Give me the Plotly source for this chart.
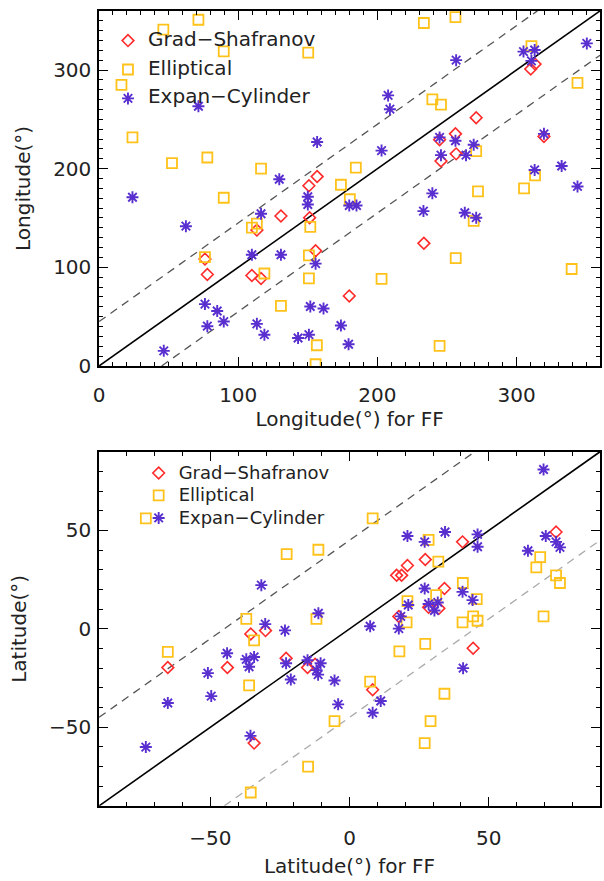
import plotly.graph_objects as go

# ---------------- data: top panel (longitude) ----------------
lon_gs_ff = [150.8, 156.7, 313.3, 310.2, 271.0, 256.1, 244.7, 256.6, 245.7, 319.7,
             130.7, 113.4, 151.3, 76.1, 77.8, 109.8, 116.4, 155.6, 179.8, 233.4]
lon_gs = [182.7, 192.0, 306.0, 301.0, 251.7, 235.3, 229.3, 215.0, 207.7, 232.7,
          152.0, 137.7, 150.3, 108.3, 92.7, 91.7, 88.7, 116.7, 71.0, 124.3]

lon_el_ff = [46.2, 71.4, 89.6, 150.3, 16.1, 24.0, 52.4, 77.8, 116.4, 173.8, 89.6,
             233.4, 256.1, 310.7, 343.8, 239.5, 245.7, 184.5, 271.0, 313.3, 272.3, 305.4, 180.2,
             113.4, 109.8, 151.8, 76.1, 150.8, 118.8, 150.8, 130.7, 156.5, 155.6,
             269.2, 256.3, 203.0, 339.6, 244.7]
lon_el = [341.0, 351.0, 319.0, 317.7, 285.0, 231.7, 205.7, 211.3, 200.0, 183.7, 170.5,
          347.7, 353.7, 324.3, 287.0, 270.3, 265.0, 201.0, 217.7, 193.3, 177.0, 180.0, 169.0,
          144.3, 140.3, 141.0, 110.3, 112.0, 93.7, 88.7, 61.0, 21.0, 1.7,
          147.0, 109.3, 88.3, 98.3, 20.3]

lon_ec_ff = [71.4, 156.7, 129.5, 150.0, 24.0,
             350.5, 305.0, 313.0, 310.7, 256.6, 207.7, 209.0, 203.0, 244.7, 256.1, 269.2,
             245.7, 263.7, 319.7, 313.0, 332.4, 343.8, 239.5,
             62.4, 116.4, 150.0, 109.8, 130.7, 155.6, 76.1, 84.9, 89.6, 77.8, 113.4, 118.8,
             143.0, 150.8, 151.8, 161.3, 173.8, 179.3, 46.5, 179.8, 185.0,
             233.1, 262.8, 271.0]
lon_ec = [263.3, 227.0, 189.3, 171.5, 171.0,
          327.0, 318.7, 320.3, 309.3, 310.0, 274.3, 260.3, 218.3, 231.7, 228.3, 224.3,
          213.7, 213.7, 235.3, 198.7, 202.7, 182.0, 175.0,
          141.7, 154.3, 163.7, 112.7, 112.7, 103.7, 62.7, 55.7, 45.0, 40.3, 42.7, 31.7,
          28.3, 31.7, 60.3, 58.3, 41.0, 22.0, 15.3, 162.7, 162.7,
          157.0, 155.3, 150.3]

# ---------------- data: bottom panel (latitude) ----------------
lat_gs_ff = [-35.5, -30.2, 74.2, 40.6, 27.2, 20.8, 16.9, 18.7, 34.1, 28.4, 32.1, 17.7,
             44.4, -65.3, -43.9, -22.8, -15.1, -12.4, -34.3, 8.3]
lat_gs = [-2.6, -0.9, 49.2, 44.2, 35.2, 32.2, 27.2, 27.2, 20.5, 10.9, 10.4, 6.3,
          -9.9, -19.7, -19.7, -15.0, -19.7, -18.0, -58.1, -31.0]

lat_el_ff = [-73.2, -22.6, -11.2, -37.1, -11.9, -34.3, -65.3, 8.3, 28.4, 31.9, 68.5,
             67.1, 74.2, 75.6, 40.7, 31.1, 20.8, 45.7, 20.5, 44.4, 46.0, 40.6, 69.7,
             17.9, 27.2, -36.1, -5.4, -14.9, -35.5, 7.4, 34.1, 29.1, 27.0]
lat_el = [56.1, 38.0, 40.2, 5.1, 5.1, -5.9, -11.7, 56.1, 45.2, 34.2, 36.4,
          31.2, 27.2, 23.3, 23.3, 17.1, 14.1, 15.1, 3.3, 6.3, 4.1, 3.3, 6.3,
          -11.5, -7.7, -28.8, -46.9, -70.1, -83.2, -26.8, -33.0, -46.9, -58.1]

lat_ec_ff = [-31.7, -30.3, -23.2, -11.2, -44.0, 69.7, 20.8, 27.0, 34.3, 46.0, 46.0,
             64.1, 70.5, 74.2, 75.6, 27.0, 40.6, 44.2, 21.1, 28.4, 31.7, 30.5, 18.4,
             7.4, 17.7, -37.1, -34.3, -36.1, -22.8, -15.1, -11.9, -10.4, -11.3, -21.1,
             -50.9, -5.4, -49.7, -65.3, -4.1, -35.6, -73.2, 40.8, 11.2, 8.3]
lat_ec = [22.2, 2.4, -0.8, 7.9, -12.4, 81.0, 47.2, 44.2, 49.2, 48.0, 41.7,
          39.7, 47.2, 44.2, 41.4, 20.5, 18.8, 14.6, 12.1, 12.6, 13.4, 9.3, 6.3,
          1.3, 0.1, -15.5, -14.3, -19.3, -17.5, -16.0, -21.0, -17.5, -23.3, -25.8,
          -22.5, -26.3, -34.2, -37.7, -38.4, -54.4, -60.1, -20.0, -36.7, -42.7]

lon_range = [0, 360]
lat_range = [-90, 90]
offset = 45
lon_ticks = [0, 100, 200, 300]
lat_ticks = [-50, 0, 50]
names = ["Grad\u2212Shafranov", "Elliptical", "Expan\u2212Cylinder"]

# ---------------- styling ----------------
RED = "#ff2b2b"
YEL = "#ffc21a"
PUR = "#5a2fd0"
FONT = "DejaVu Sans"
TXT = "#222222"
FS = 20

styles = [
    dict(symbol="diamond-open", size=9, color=RED, line=dict(width=1.6, color=RED)),
    dict(symbol="square-open", size=10, color=YEL, line=dict(width=1.8, color=YEL)),
    dict(symbol="asterisk-open", size=10, color=PUR, line=dict(width=1.9, color=PUR)),
]

fig = go.Figure()

def add_lines(lo, hi, xa, ya, low_color):
    fig.add_trace(go.Scatter(x=[lo, hi], y=[lo, hi], mode="lines", xaxis=xa, yaxis=ya,
                             line=dict(color="black", width=1.6), showlegend=False, hoverinfo="skip"))
    fig.add_trace(go.Scatter(x=[lo, hi - offset], y=[lo + offset, hi], mode="lines", xaxis=xa, yaxis=ya,
                             line=dict(color="#555555", width=1.3, dash="8px,6px"),
                             showlegend=False, hoverinfo="skip"))
    fig.add_trace(go.Scatter(x=[lo + offset, hi], y=[lo, hi - offset], mode="lines", xaxis=xa, yaxis=ya,
                             line=dict(color=low_color, width=1.3, dash="8px,6px"),
                             showlegend=False, hoverinfo="skip"))

add_lines(lon_range[0], lon_range[1], "x", "y", "#555555")
add_lines(lat_range[0], lat_range[1], "x2", "y2", "#aaaaaa")

def label(n, fs):
    return '<span style="font-size:%dpx">%s</span>' % (fs, n)

top_sets = [(lon_gs_ff, lon_gs), (lon_el_ff, lon_el), (lon_ec_ff, lon_ec)]
bot_sets = [(lat_gs_ff, lat_gs), (lat_el_ff, lat_el), (lat_ec_ff, lat_ec)]
for i, ((xs, ys), st) in enumerate(zip(top_sets, styles)):
    fig.add_trace(go.Scatter(x=xs, y=ys, mode="markers", name=label(names[i], FS), marker=st,
                             xaxis="x", yaxis="y", legend="legend", legendgroup="t%d" % i))
for i, ((xs, ys), st) in enumerate(zip(bot_sets, styles)):
    fig.add_trace(go.Scatter(x=xs, y=ys, mode="markers", name=label(names[i], 18), marker=st,
                             xaxis="x2", yaxis="y2", legend="legend2", legendgroup="b%d" % i))

W, H = 604, 881
xdom = [94 / W, 600 / W]
ydom_top = [1 - 371 / H, 1 - 11 / H]
ydom_bot = [1 - 817 / H, 1 - 458 / H]

def axis(rng, dom, tickvals, title, anchor, standoff, lab_off):
    return dict(range=rng, domain=dom, anchor=anchor, tickvals=tickvals,
                showline=True, linecolor="black", linewidth=1.5, mirror="allticks",
                ticks="inside", ticklen=9, tickwidth=1.3, tickcolor="black",
                minor=dict(dtick=10, ticks="inside", ticklen=4, tickwidth=1, tickcolor="black"),
                showgrid=False, zeroline=False, ticklabelstandoff=lab_off,
                tickfont=dict(family=FONT, size=FS, color=TXT),
                title=dict(text=title, font=dict(family=FONT, size=FS, color=TXT), standoff=standoff))

fig.update_layout(
    width=W, height=H, margin=dict(l=0, r=0, t=0, b=0),
    paper_bgcolor="white", plot_bgcolor="white",
    xaxis=axis(lon_range, xdom, lon_ticks, "Longitude(\u00b0) for FF", "y", 6, 10),
    yaxis=axis(lon_range, ydom_top, lon_ticks, "Longitude(\u00b0)", "x", 17, 2),
    xaxis2=axis(lat_range, xdom, lat_ticks, "Latitude(\u00b0) for FF", "y2", 10, 13),
    yaxis2=axis(lat_range, ydom_bot, lat_ticks, "Latitude(\u00b0)", "x2", 17, 2),
    legend=dict(x=103 / W, y=1 - 26 / H, xanchor="left", yanchor="top", bgcolor="rgba(0,0,0,0)",
                font=dict(family=FONT, size=13, color=TXT), tracegroupgap=9, itemwidth=30),
    legend2=dict(x=134 / W, y=1 - 463 / H, xanchor="left", yanchor="top", bgcolor="rgba(0,0,0,0)",
                 font=dict(family=FONT, size=15, color=TXT), tracegroupgap=0, itemwidth=30),
    showlegend=True,
)

fig.write_html("out.html")
